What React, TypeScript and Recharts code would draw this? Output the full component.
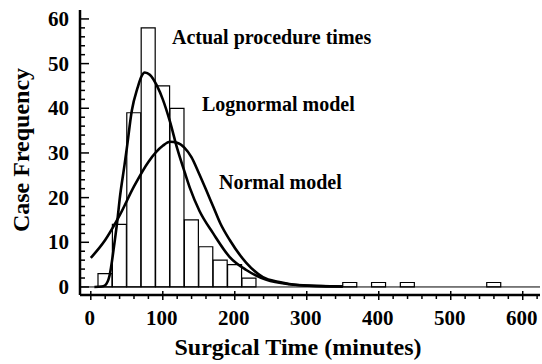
import { ComposedChart, Bar, Line, XAxis, YAxis, ReferenceLine } from 'recharts'

// histogram bins (20 min wide, labelled by centre)
const binCenters = [20, 40, 60, 80, 100, 120, 140, 160, 180, 200, 220, 240, 260, 280, 300, 320, 340, 360, 380, 400, 420, 440, 460, 480, 500, 520, 540, 560, 580, 600]
const caseCounts = [3, 14, 39, 58, 45, 40, 15, 9, 6, 5, 2, 0, 0, 0, 0, 0, 0, 1, 0, 1, 0, 1, 0, 0, 0, 0, 0, 1, 0, 0]

// fitted curves
const lognormalX = [5, 15, 20, 26, 33, 37, 40, 47, 50, 57, 65, 70, 75, 82, 92, 100, 110, 120, 131, 138, 151, 170, 193, 216, 244, 276, 310, 350]
const lognormalY = [0, 0.1, 0.4, 2.5, 10, 15, 19.5, 27.5, 31, 39.5, 44.6, 47, 48, 47.5, 45, 42, 37, 31, 25.4, 22, 17, 12, 6.7, 3.8, 1.6, 0.6, 0.25, 0.1]

const normalX = [0, 20, 40, 60, 80, 100, 110, 120, 130, 140, 150, 160, 170, 180, 193, 216, 239, 262, 290, 320, 350]
const normalY = [6.5, 10.5, 16, 22.5, 28, 31.6, 32.5, 32.3, 31.2, 29, 25.5, 21.8, 18, 14.2, 10.5, 5.4, 2.2, 1.1, 0.4, 0.2, 0.1]

const xTicks = [0, 20, 40, 60, 80, 100, 120, 140, 160, 180, 200, 220, 240, 260, 280, 300, 320, 340, 360, 380, 400, 420, 440, 460, 480, 500, 520, 540, 560, 580, 600, 620]
const yTicks = [0, 2, 4, 6, 8, 10, 12, 14, 16, 18, 20, 22, 24, 26, 28, 30, 32, 34, 36, 38, 40, 42, 44, 46, 48, 50, 52, 54, 56, 58, 60]

const histData = binCenters.map((x, i) => ({ x, count: caseCounts[i] }))
const lognormalData = lognormalX.map((x, i) => ({ x, y: lognormalY[i] }))
const normalData = normalX.map((x, i) => ({ x, y: normalY[i] }))

const X_DOMAIN: [number, number] = [-15, 624]
const FONT = '"Liberation Serif", "Times New Roman", serif'

function XTick({ x, y, payload }: any) {
    const major = payload.value % 100 === 0
    return (
        <g>
            <line x1={x} x2={x} y1={major ? y - 4 : y} y2={y + (major ? 5 : 4)} stroke="#000" strokeWidth={1.5} />
            {major && payload.value <= 600 && (
                <text x={x - 1} y={y + 30} textAnchor="middle" fontFamily={FONT} fontWeight="bold" fontSize={21} fill="#000">
                    {payload.value}
                </text>
            )}
        </g>
    )
}

function YTick({ x, y, payload }: any) {
    const major = payload.value % 10 === 0
    return (
        <g>
            <line x1={x} x2={x + (major ? 9 : 5)} y1={y} y2={y} stroke="#000" strokeWidth={1.5} />
            {major && (
                <text x={x - 11} y={y + 7} textAnchor="end" fontFamily={FONT} fontWeight="bold" fontSize={21} fill="#000">
                    {payload.value}
                </text>
            )}
        </g>
    )
}

export default function App() {
    return (
        <div style={{ position: 'absolute', left: 0, top: 0, width: 542, height: 364, background: '#fff' }}>
            <ComposedChart
                width={542}
                height={364}
                data={histData}
                barCategoryGap={0}
                barGap={0}
                margin={{ top: 10, right: 2, bottom: 0, left: 0 }}
            >
                <XAxis
                    dataKey="x"
                    type="number"
                    domain={X_DOMAIN}
                    allowDataOverflow
                    ticks={xTicks}
                    interval={0}
                    tickSize={0}
                    tickMargin={0}
                    tick={<XTick />}
                    tickLine={false}
                    axisLine={{ stroke: '#000', strokeWidth: 2.5 }}
                    height={69}
                />
                {/* same scale for the fitted curves, kept apart so bar width follows the bins */}
                <XAxis xAxisId="curve" dataKey="x" type="number" domain={X_DOMAIN} allowDataOverflow hide />
                <YAxis
                    type="number"
                    domain={[-1.8, 62]}
                    allowDataOverflow
                    ticks={yTicks}
                    interval={0}
                    tickSize={0}
                    tickMargin={0}
                    tick={<YTick />}
                    tickLine={false}
                    axisLine={{ stroke: '#000', strokeWidth: 2.5 }}
                    width={80}
                />
                <ReferenceLine y={0} stroke="#000" strokeWidth={1} />
                <Bar dataKey="count" fill="#fff" stroke="#000" strokeWidth={1.2} isAnimationActive={false} />
                <Line xAxisId="curve" data={normalData} dataKey="y" type="monotone" stroke="#000" strokeWidth={2.6} dot={false} isAnimationActive={false} />
                <Line xAxisId="curve" data={lognormalData} dataKey="y" type="monotone" stroke="#000" strokeWidth={2.6} dot={false} isAnimationActive={false} />
            </ComposedChart>

            <svg width={542} height={364} style={{ position: 'absolute', left: 0, top: 0, pointerEvents: 'none' }}>
                <g fontFamily={FONT} fontWeight="bold" fill="#000">
                    <text x={172} y={44} fontSize={20}>Actual procedure times</text>
                    <text x={202} y={111} fontSize={20}>Lognormal model</text>
                    <text x={219} y={189} fontSize={20}>Normal model</text>
                    <text x={298} y={355} fontSize={24} textAnchor="middle">Surgical Time (minutes)</text>
                    <text transform="translate(29,150) rotate(-90)" fontSize={24} textAnchor="middle">Case Frequency</text>
                </g>
            </svg>
        </div>
    )
}
